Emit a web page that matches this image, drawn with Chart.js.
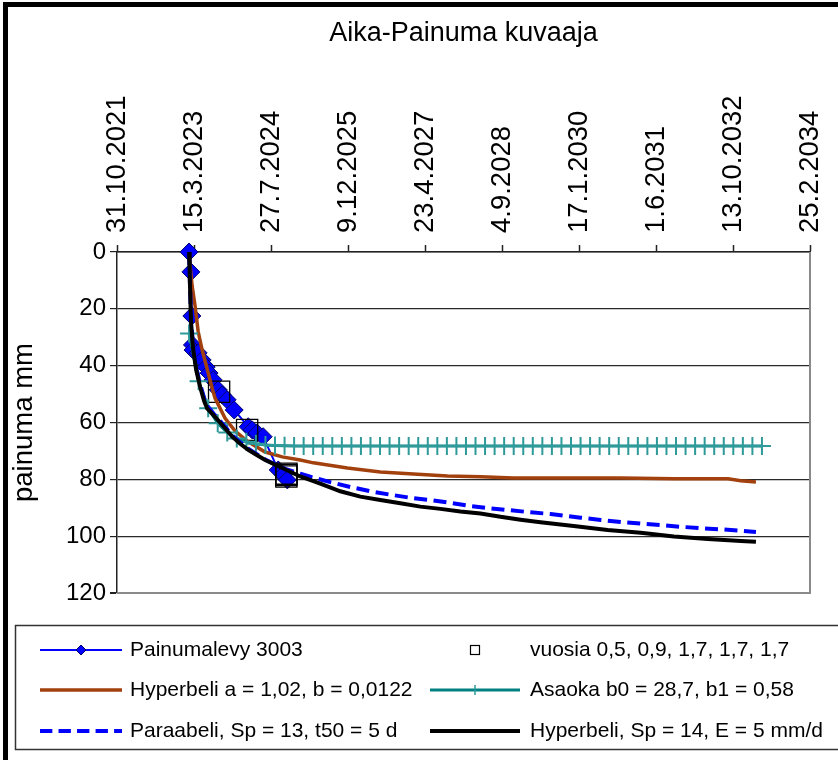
<!DOCTYPE html>
<html><head><meta charset="utf-8">
<script src="https://cdn.jsdelivr.net/npm/chart.js@4.4.0/dist/chart.umd.min.js"></script>
<style>html,body{margin:0;padding:0;background:#fff;}canvas{display:block;}</style>
</head><body>
<canvas id="c" width="838" height="760"></canvas>
<script>
// ---- data (x = Excel date serial, y = painuma mm) ----
const xTickValues = [44500, 45000, 45500, 46000, 46500, 47000, 47500, 48000, 48500, 49000];
const xTickLabels = ['31.10.2021', '15.3.2023', '27.7.2024', '9.12.2025', '23.4.2027', '4.9.2028', '17.1.2030', '1.6.2031', '13.10.2032', '25.2.2034'];
const yTickValues = [0, 20, 40, 60, 80, 100, 120];

const seriesNames = [
  'Painumalevy 3003',
  'vuosia 0,5, 0,9, 1,7, 1,7, 1,7',
  'Hyperbeli a = 1,02, b = 0,0122',
  'Asaoka b0 = 28,7, b1 = 0,58',
  'Paraabeli, Sp = 13, t50 = 5 d',
  'Hyperbeli, Sp = 14, E = 5 mm/d'
];

const plateDates = [44968, 44980, 44986, 44990, 44994, 45027, 45053, 45079, 45098, 45124, 45157, 45183, 45215, 45261, 45352, 45378, 45410, 45449, 45547, 45580, 45606];
const plateValues = [0, 7, 22.5, 32.7, 34.5, 35.5, 38, 40.5, 42.6, 45, 48.5, 50.3, 52, 55.6, 61.5, 62.6, 63.7, 65, 76.7, 78.4, 80.2];

const yearDates = [45163, 45345, 45600, 45600, 45600];
const yearValues = [49.2, 62.6, 78, 78.5, 79];

const hypADates = [44968, 44975, 44988, 45007, 45027, 45053, 45092, 45118, 45137, 45202, 45267, 45352, 45462, 45573, 45690, 45775, 45996, 46210, 46425, 46646, 46861, 47075, 47381, 47771, 48116, 48467, 48551, 48649];
const hypAValues = [0, 5, 12, 19, 28, 34.5, 42.5, 48, 51.5, 58.5, 63, 66.8, 70.4, 72.1, 73.2, 74.2, 76, 77.4, 78.1, 78.8, 79.1, 79.5, 79.5, 79.5, 79.8, 79.8, 80.5, 80.9];

const asaokaDates = [44968, 45030, 45092, 45154, 45216, 45278, 45340, 45402, 45464, 45526, 45588, 45650, 45712, 45774, 45836, 45898, 45960, 46022, 46084, 46146, 46208, 46270, 46332, 46394, 46456, 46518, 46580, 46642, 46704, 46766, 46828, 46890, 46952, 47014, 47076, 47138, 47200, 47262, 47324, 47386, 47448, 47510, 47572, 47634, 47696, 47758, 47820, 47882, 47944, 48006, 48068, 48130, 48192, 48254, 48316, 48378, 48440, 48502, 48564, 48626, 48688];
const asaokaValues = [28.7, 45.5, 55, 60.3, 63.5, 65.6, 66.8, 67.5, 67.9, 68.1, 68.2, 68.3, 68.3, 68.3, 68.3, 68.3, 68.3, 68.3, 68.3, 68.3, 68.3, 68.3, 68.3, 68.3, 68.3, 68.3, 68.3, 68.3, 68.3, 68.3, 68.3, 68.3, 68.3, 68.3, 68.3, 68.3, 68.3, 68.3, 68.3, 68.3, 68.3, 68.3, 68.3, 68.3, 68.3, 68.3, 68.3, 68.3, 68.3, 68.3, 68.3, 68.3, 68.3, 68.3, 68.3, 68.3, 68.3, 68.3, 68.3, 68.3, 68.3];

const parabDates = [44968, 44972, 44977, 44981, 44994, 45014, 45040, 45066, 45085, 45137, 45202, 45248, 45300, 45352, 45410, 45462, 45573, 45690, 45755, 45885, 46015, 46145, 46275, 46405, 46535, 46665, 46795, 46926, 47056, 47186, 47316, 47511, 47641, 47771, 47901, 48031, 48161, 48291, 48421, 48551, 48649];
const parabValues = [0, 8, 17, 24, 33, 40.5, 46.5, 51.5, 54, 57.5, 61.5, 64.5, 67, 69.2, 71.2, 73, 76, 78, 79.1, 81, 82.7, 84.2, 85.4, 86.5, 87.3, 88.3, 89.4, 90.2, 90.9, 91.6, 92.2, 93.5, 94.3, 95, 95.6, 96.1, 96.7, 97.2, 97.6, 98.1, 98.5];

const hypBDates = [44968, 44972, 44977, 44981, 44994, 45014, 45040, 45066, 45085, 45137, 45202, 45248, 45300, 45352, 45410, 45462, 45573, 45690, 45820, 45950, 46080, 46210, 46340, 46470, 46600, 46730, 46860, 46990, 47120, 47250, 47465, 47686, 47901, 48116, 48337, 48551, 48649];
const hypBValues = [0, 8, 18, 25, 34, 41.5, 47.5, 52.5, 55, 58, 62, 65, 67.5, 69.6, 71.5, 73.2, 76, 79, 81.5, 84.2, 86.1, 87.3, 88.4, 89.6, 90.4, 91.3, 92, 93.2, 94.2, 95.1, 96.4, 97.8, 98.8, 100.1, 101, 101.7, 102];

const FONT = "'Liberation Sans', Arial, sans-serif";
const X_FONT_SIZE = 27.5;
const pts = (xs, ys) => xs.map((x, i) => ({x: x, y: ys[i]}));

const datasets = [
  {label: seriesNames[0], data: pts(plateDates, plateValues), borderColor: '#0000FF', borderWidth: 2,
   pointStyle: 'rectRot', pointRadius: 9, pointBackgroundColor: '#0000FF', pointBorderColor: '#00006A', pointBorderWidth: 1, order: 6},
  {label: seriesNames[1], data: pts(yearDates, yearValues), showLine: false, pointStyle: 'rect', pointRadius: 15,
   pointBackgroundColor: 'rgba(0,0,0,0)', pointBorderColor: '#000', pointBorderWidth: 1.3, order: 5},
  {label: seriesNames[2], data: pts(hypADates, hypAValues), borderColor: '#A3410E', borderWidth: 3.5, pointRadius: 0, order: 4},
  {label: seriesNames[3], data: pts(asaokaDates, asaokaValues), borderColor: '#008080', borderWidth: 3,
   pointStyle: 'cross', pointRadius: 9, pointBorderColor: '#2E9A9A', pointBorderWidth: 2, order: 3},
  {label: seriesNames[4], data: pts(parabDates, parabValues), borderColor: '#0000FF', borderWidth: 4, borderDash: [13, 6.5], pointRadius: 0, order: 2},
  {label: seriesNames[5], data: pts(hypBDates, hypBValues), borderColor: '#000000', borderWidth: 4, pointRadius: 0, order: 1}
];
datasets.forEach(d => { d.clip = false; d.tension = 0; d.fill = false; d.pointHoverRadius = d.pointRadius; });

const decor = {
  id: 'decor',
  afterDraw(chart) {
    const ctx = chart.ctx, a = chart.chartArea;
    ctx.save();
    // plot area right / bottom border
    ctx.strokeStyle = '#8A8A8A'; ctx.lineWidth = 2;
    ctx.beginPath(); ctx.moveTo(a.right, a.top); ctx.lineTo(a.right, a.bottom); ctx.lineTo(a.left, a.bottom); ctx.stroke();
    // outer chart border
    ctx.strokeStyle = '#000'; ctx.lineWidth = 5;
    ctx.strokeRect(5.5, 4.5, 900, 900);
    // legend box
    ctx.strokeStyle = '#333'; ctx.lineWidth = 1.5;
    ctx.strokeRect(15.5, 625.5, 830, 124);
    const rows = [650, 690, 731];
    const cols = [{l: 40, r: 122, t: 130}, {l: 430, r: 520, t: 530}];
    ctx.font = '21px ' + FONT; ctx.textBaseline = 'middle'; ctx.textAlign = 'left';
    chart.data.datasets.forEach((ds, i) => {
      const row = rows[Math.floor(i / 2)], col = cols[i % 2];
      const cx = (col.l + col.r) / 2;
      ctx.save();
      if (ds.showLine !== false) {
        ctx.strokeStyle = ds.borderColor; ctx.lineWidth = ds.borderWidth;
        if (ds.borderDash) ctx.setLineDash(ds.borderDash.map(v => v * 0.95));
        ctx.beginPath(); ctx.moveTo(col.l, row); ctx.lineTo(col.r, row); ctx.stroke();
        ctx.setLineDash([]);
      }
      if (ds.pointStyle === 'rectRot') {
        ctx.fillStyle = ds.pointBackgroundColor; ctx.strokeStyle = ds.pointBorderColor; ctx.lineWidth = 1;
        ctx.beginPath(); ctx.moveTo(cx - 5, row); ctx.lineTo(cx, row - 5); ctx.lineTo(cx + 5, row); ctx.lineTo(cx, row + 5); ctx.closePath();
        ctx.fill(); ctx.stroke();
      } else if (ds.pointStyle === 'rect') {
        ctx.fillStyle = '#fff'; ctx.strokeStyle = '#000'; ctx.lineWidth = 1.2;
        ctx.fillRect(cx - 4.5, row - 4.5, 9, 9); ctx.strokeRect(cx - 4.5, row - 4.5, 9, 9);
      } else if (ds.pointStyle === 'cross') {
        ctx.strokeStyle = ds.pointBorderColor; ctx.lineWidth = 1.5;
        ctx.beginPath(); ctx.moveTo(cx, row - 5); ctx.lineTo(cx, row + 5); ctx.stroke();
      }
      ctx.restore();
      ctx.fillStyle = '#000';
      ctx.fillText(ds.label, col.t, row);
    });
    ctx.restore();
  }
};

new Chart(document.getElementById('c'), {
  type: 'line',
  data: {datasets: datasets},
  options: {
    responsive: false, animation: false, devicePixelRatio: 1,
    layout: {padding: {left: 8, right: 28, top: 0, bottom: 167}},
    plugins: {
      legend: {display: false}, tooltip: {enabled: false},
      title: {display: true, text: 'Aika-Painuma kuvaaja', fullSize: false, color: '#000',
        font: {family: FONT, size: 27, weight: 'normal'}, padding: {top: 17, bottom: 10}}
    },
    scales: {
      x: {
        type: 'linear', position: 'top', min: xTickValues[0], max: xTickValues[xTickValues.length - 1],
        afterBuildTicks: s => { s.ticks = xTickValues.map(v => ({value: v})); },
        afterFit: s => { s.height = 192.6; },
        ticks: {autoSkip: false, minRotation: 90, maxRotation: 90, padding: 12, color: '#000',
          labelOffset: X_FONT_SIZE * 1.2,
          font: {family: FONT, size: X_FONT_SIZE, lineHeight: 1.2},
          callback: v => xTickLabels[xTickValues.indexOf(v)]},
        grid: {drawOnChartArea: false, drawTicks: true, tickLength: 7, tickColor: '#222', tickWidth: 1.5},
        border: {display: true, color: '#222', width: 1.5}
      },
      y: {
        type: 'linear', position: 'left', reverse: true, min: yTickValues[0], max: yTickValues[yTickValues.length - 1],
        afterBuildTicks: s => { s.ticks = yTickValues.map(v => ({value: v})); },
        afterFit: s => { s.width = 109; },
        ticks: {padding: 4, color: '#000', font: {family: FONT, size: 24}},
        grid: {drawTicks: true, tickLength: 7, tickColor: '#222',
          color: c => (c.tick && c.tick.value === 120) ? '#8A8A8A' : '#2A2A2A',
          lineWidth: c => (c.tick && c.tick.value === 120) ? 2 : 1.2},
        border: {display: true, color: '#222', width: 1.5},
        title: {display: true, text: 'painuma mm', color: '#000', font: {family: FONT, size: 27.5}, padding: {top: 0, bottom: 0}}
      }
    }
  },
  plugins: [decor]
});
</script>
</body></html>
